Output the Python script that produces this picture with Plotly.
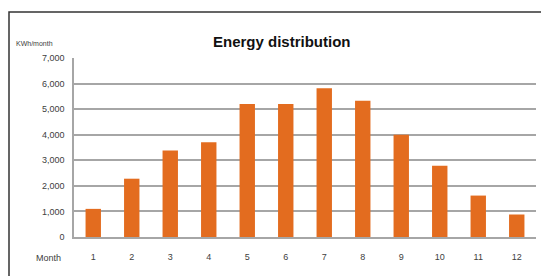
import plotly.graph_objects as go

months = [str(m) for m in range(1, 13)]
energy = [1100, 2280, 3380, 3710, 5200, 5200, 5820, 5330, 4000, 2790, 1620, 880]
y_ticks = [0, 1000, 2000, 3000, 4000, 5000, 6000, 7000]

# page body has an 8px margin, so the figure is sized/offset to compensate
OFF = 8
W, H = 549 - OFF, 276 - OFF
L, R, T, B = 74 - OFF, 13, 58 - OFF, 39
pw, ph = W - L - R, H - T - B

def px(x):
    return (x - OFF - L) / pw

def py(y):
    return 1 - (y - OFF - T) / ph

fig = go.Figure()
fig.add_trace(go.Bar(x=months, y=energy, marker=dict(color="#E36C1F", line=dict(width=0)),
                     width=0.4))

tick_font = dict(family="Liberation Sans, Arial, sans-serif", size=9, color="#404040")

fig.update_layout(
    width=W, height=H,
    margin=dict(l=L, r=R, t=T, b=B),
    paper_bgcolor="white", plot_bgcolor="white",
    showlegend=False,
    xaxis=dict(type="category", showgrid=False, showline=True, linecolor="#A6A6A6", linewidth=1.5,
               ticks="", tickfont=tick_font, ticklabelstandoff=10, fixedrange=True),
    yaxis=dict(range=[0, 7000], tickvals=y_ticks, tickformat=",", showgrid=True,
               gridcolor="#A6A6A6", gridwidth=1.5, showline=True, linecolor="#A6A6A6", linewidth=1.5,
               zeroline=False, ticks="", tickfont=tick_font, ticklabelstandoff=6, fixedrange=True),
    bargap=0.6,
)

fig.add_annotation(text="<b>Energy distribution</b>", xref="paper", yref="paper",
                   x=px(282), y=py(41), xanchor="center", yanchor="middle", showarrow=False,
                   font=dict(family="Liberation Sans, Arial, sans-serif", size=15, color="#111111"))
fig.add_annotation(text="KWh/month", xref="paper", yref="paper",
                   x=px(34), y=py(44), xanchor="center", yanchor="middle", showarrow=False,
                   font=dict(family="Liberation Sans, Arial, sans-serif", size=7, color="#404040"))
fig.add_annotation(text="Month", xref="paper", yref="paper",
                   x=px(48), y=py(258), xanchor="center", yanchor="middle", showarrow=False,
                   font=tick_font)

fig.add_shape(type="rect", xref="paper", yref="paper",
              x0=px(9), y0=py(290), x1=px(570), y1=py(12),
              line=dict(color="#333333", width=1.5), fillcolor="rgba(0,0,0,0)", layer="below")

fig.write_html("out.html")
